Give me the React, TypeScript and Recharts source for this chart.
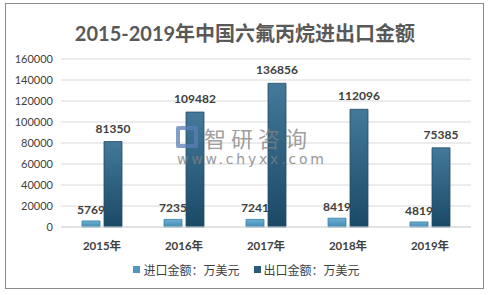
import React from "react";
import { BarChart, Bar, XAxis, YAxis, CartesianGrid, LabelList, Legend } from "recharts";

const categories = ["2015年", "2016年", "2017年", "2018年", "2019年"];
const importValues = [5769, 7235, 7241, 8419, 4819];
const exportValues = [81350, 109482, 136856, 112096, 75385];
const yTicks = [0, 20000, 40000, 60000, 80000, 100000, 120000, 140000, 160000];
const seriesNames = ["进口金额：万美元", "出口金额：万美元"];

const data = categories.map((c, i) => ({ name: c, imp: importValues[i], exp: exportValues[i] }));

const FONT = "Lato, 'Noto Sans CJK SC', sans-serif";

const LegendContent = () => (
  <div style={{ display: "flex", justifyContent: "center", fontFamily: FONT, fontSize: 12, color: "#404040", gap: 14, paddingTop: 8, paddingLeft: 22 }}>
    {seriesNames.map((n, i) => (
      <div key={n} style={{ display: "flex", alignItems: "center" }}>
        <span style={{ display: "inline-block", width: 7, height: 7, marginRight: 3, background: i === 0 ? "#4f97bf" : "#2a5a78" }} />
        <span>{n}</span>
      </div>
    ))}
  </div>
);

export default function App() {
  return (
    <div style={{ position: "absolute", left: 0, top: 0, width: 490, height: 295, background: "#fff" }}>
      <div style={{ position: "absolute", left: 5, top: 3, width: 479, height: 286, border: "1px solid #8c8c8c", boxSizing: "border-box" }} />
      <div style={{ position: "absolute", left: 0, top: 18, width: 490, textAlign: "center", fontFamily: FONT, fontWeight: 700, fontSize: 20, color: "#595959" }}>
        2015-2019年中国六氟丙烷进出口金额
      </div>
      <div style={{ position: "absolute", left: 0, top: 0 }}>
        <BarChart width={490} height={295} data={data} margin={{ top: 59, right: 19, left: 0, bottom: 22 }} barGap={4} barCategoryGap={21}>
          <defs>
            <linearGradient id="gImp" x1="0" y1="0" x2="0" y2="1">
              <stop offset="0%" stopColor="#6cb0d4" />
              <stop offset="100%" stopColor="#438ab2" />
            </linearGradient>
            <linearGradient id="gExp" x1="0" y1="0" x2="0" y2="1">
              <stop offset="0%" stopColor="#44799a" />
              <stop offset="100%" stopColor="#1a4965" />
            </linearGradient>
          </defs>
          <CartesianGrid vertical={false} stroke="#d9d9d9" />
          <XAxis dataKey="name" axisLine={{ stroke: "#d9d9d9" }} tickLine={false} tickMargin={9} height={26}
            tick={{ fontFamily: FONT, fontSize: 11.5, fontWeight: 700, fill: "#404040" }} />
          <YAxis width={61} ticks={yTicks} domain={[0, 160000]} axisLine={false} tickLine={false} interval={0}
            tick={{ fontFamily: FONT, fontSize: 11, fill: "#404040" }} />
          <Legend verticalAlign="bottom" height={20} content={<LegendContent />} />
          <Bar dataKey="imp" name={seriesNames[0]} fill="url(#gImp)" stroke="#3a7ea6" strokeWidth={0.8} isAnimationActive={false}>
            <LabelList dataKey="imp" position="top" offset={7} style={{ fontFamily: FONT, fontSize: 12, fontWeight: 700, fill: "#404040" }} />
          </Bar>
          <Bar dataKey="exp" name={seriesNames[1]} fill="url(#gExp)" stroke="#1f4d68" strokeWidth={0.8} isAnimationActive={false}>
            <LabelList dataKey="exp" position="top" offset={9} style={{ fontFamily: FONT, fontSize: 12, fontWeight: 700, fill: "#404040" }} />
          </Bar>
        </BarChart>
      </div>
      <div style={{ position: "absolute", left: 176, top: 125, display: "flex", alignItems: "center", opacity: 0.75, pointerEvents: "none" }}>
        <div style={{ width: 22, height: 22, border: "4px solid #5a7fb5", boxSizing: "border-box", marginRight: 6, borderRadius: 2 }} />
        <span style={{ fontFamily: "'Noto Sans CJK SC', sans-serif", fontSize: 22, color: "#7f7f7f", letterSpacing: 5, lineHeight: "24px" }}>智研咨询</span>
      </div>
      <div style={{ position: "absolute", left: 177, top: 151, fontFamily: "'DejaVu Sans', sans-serif", fontSize: 14, lineHeight: "16px", color: "#7f7f7f", letterSpacing: 2.8, opacity: 0.8, pointerEvents: "none" }}>
        www.chyxx.com
      </div>
    </div>
  );
}
